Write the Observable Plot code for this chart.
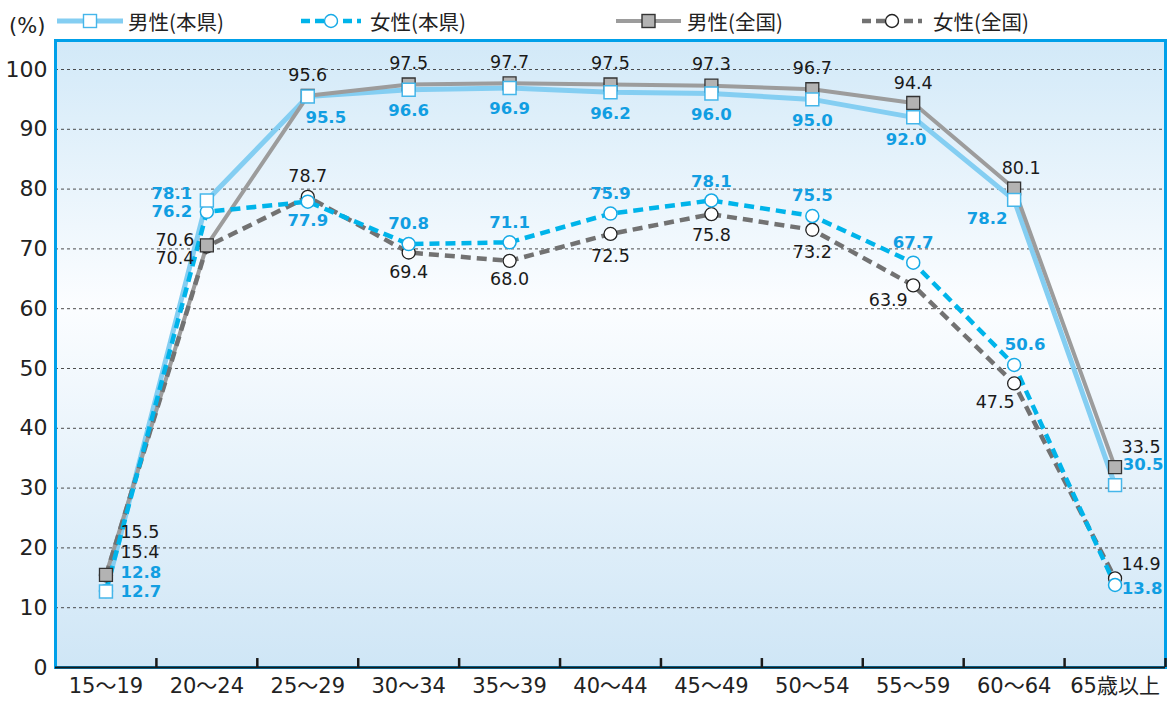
<!DOCTYPE html>
<html><head><meta charset="utf-8">
<script src="https://cdn.jsdelivr.net/npm/d3@7"></script>
<script src="https://cdn.jsdelivr.net/npm/@observablehq/plot@0.6"></script>
<style>
body{margin:0;background:#fff;font-family:"Noto Sans CJK JP",sans-serif;}
#wrap{position:relative;width:1171px;height:705px;overflow:hidden;}
#chart{position:absolute;left:0;top:0;}
.lg{position:absolute;top:0;height:42px;display:flex;align-items:center;font-size:20.5px;color:#222;white-space:nowrap;}
.lg svg{display:block;}
#unit{position:absolute;left:9px;top:14px;font-size:21px;color:#222;font-family:"DejaVu Sans",sans-serif;}
</style></head><body>
<div id="wrap"><div id="chart"></div><div id="legend"></div><div id="unit">(%)</div></div>
<script>
// ---- data ----
const ages = ["15～19","20～24","25～29","30～34","35～39","40～44","45～49","50～54","55～59","60～64","65歳以上"];
const malePref   = [12.7, 78.1, 95.5, 96.6, 96.9, 96.2, 96.0, 95.0, 92.0, 78.2, 30.5];
const femalePref = [12.8, 76.2, 77.9, 70.8, 71.1, 75.9, 78.1, 75.5, 67.7, 50.6, 13.8];
const maleNat    = [15.5, 70.6, 95.6, 97.5, 97.7, 97.5, 97.3, 96.7, 94.4, 80.1, 33.5];
const femaleNat  = [15.4, 70.4, 78.7, 69.4, 68.0, 72.5, 75.8, 73.2, 63.9, 47.5, 14.9];
const seriesNames = ["男性(本県)","女性(本県)","男性(全国)","女性(全国)"];
const yTicks = [0,10,20,30,40,50,60,70,80,90,100];

// ---- label placement (pixel nudges, layout only) ----
const offMalePref   = [[35,0],[-35,-7],[18,21],[0,21],[0,21],[0,21],[0,21],[0,21],[-7,22],[-27,19],[28,-20]];
const offFemalePref = [[35,-18],[-35,0],[0,19],[0,-20],[0,-20],[0,-20],[0,-19],[0,-20],[0,-20],[11,-20],[27,4]];
const offMaleNat    = [[34,-42],[-32,-5],[0,-20],[0,-21],[0,-21],[0,-21],[0,-21],[0,-21],[0,-20],[7,-20],[26,-20]];
const offFemaleNat  = [[34,-23],[-32,12],[0,-20],[0,20],[0,19],[0,22],[0,21],[0,23],[-25,15],[-19,19],[26,-14]];

const toRows = (vals) => vals.map((v,i)=>({age:ages[i], value:v, i}));
const rMP = toRows(malePref), rFP = toRows(femalePref), rMN = toRows(maleNat), rFN = toRows(femaleNat);

const W = 1171, H = 705, mL = 55, mR = 6, mT = 40, mB = 38;
const step = (W - mL - mR) / ages.length;

const cMaleLine = "#84cef2", cMaleMk = "#45b6ea";
const cFemLine = "#00b4ea", cFemMk = "#17aae6";
const cNatMale = "#9c9c9c", cNatFem = "#727272";
const cBlueTxt = "#119ee2";
const numFont = '"DejaVu Sans", "Noto Sans CJK JP", sans-serif';

function labels(rows, offs, color, weight){
  return rows.map((r,k)=>Plot.text([r], {x:"age", y:"value", text:d=>d.value.toFixed(1),
    dx:offs[k][0], dy:offs[k][1], fill:color, fontWeight:weight, fontSize: weight==="bold"?16.5:17.5,
    textAnchor:"middle", lineAnchor:"middle"}));
}

const chart = Plot.plot({
  width: W, height: H,
  marginLeft: mL, marginRight: mR, marginTop: mT, marginBottom: mB,
  style: {fontFamily: numFont, background: "transparent", color:"#222"},
  x: {type:"point", domain: ages, padding: 0.5, round: false, label: null},
  y: {domain: [0, 104.85], label: null},
  marks: [
    Plot.frame({fill: "url(#bgGrad)", stroke: "none"}),
    Plot.gridY(yTicks.slice(1), {stroke:"#3a3a3a", strokeOpacity:0.9, strokeWidth:1, strokeDasharray:"3,3"}),
    Plot.axisY(yTicks, {tickSize:0, tickPadding:8, fontSize:22, label:null, fill:"#222"}),
    Plot.axisX({tickSize:0, tickPadding:11, fontSize:21, label:null, fill:"#222"}),
    Plot.frame({stroke:"#00a0e9", strokeWidth:3}),
    Plot.ruleY([0], {stroke:"#1a1a1a", strokeWidth:2}),
    Plot.ruleX(ages, {x:d=>d, y1:0, y2:1.5, dx: step/2, stroke:"#1a1a1a", strokeWidth:2.5}),
    // lines
    Plot.line(rMP, {x:"age", y:"value", stroke:cMaleLine, strokeWidth:5}),
    Plot.line(rMN, {x:"age", y:"value", stroke:cNatMale, strokeWidth:4}),
    Plot.line(rFN, {x:"age", y:"value", stroke:cNatFem, strokeWidth:4.5, strokeDasharray:"10,6", strokeLinecap:"butt"}),
    Plot.line(rFP, {x:"age", y:"value", stroke:cFemLine, strokeWidth:4.5, strokeDasharray:"10,6", strokeLinecap:"butt"}),
    // markers
    Plot.dot(rFN, {x:"age", y:"value", r:6.5, fill:"#fff", stroke:"#222", strokeWidth:1.3}),
    Plot.dot(rFP, {x:"age", y:"value", r:6.5, fill:"#fff", stroke:cFemMk, strokeWidth:1.5}),
    Plot.dot(rMN, {x:"age", y:"value", symbol:"square", r:7.3, fill:"#b3b3b3", stroke:"#333", strokeWidth:1.3}),
    Plot.dot(rMP, {x:"age", y:"value", symbol:"square", r:7.3, fill:"#fff", stroke:cMaleMk, strokeWidth:1.5}),
    // labels
    ...labels(rMN, offMaleNat, "#1a1a1a", "normal"),
    ...labels(rFN, offFemaleNat, "#1a1a1a", "normal"),
    ...labels(rMP, offMalePref, cBlueTxt, "bold"),
    ...labels(rFP, offFemalePref, cBlueTxt, "bold")
  ]
});

const ns = "http://www.w3.org/2000/svg";
const defs = document.createElementNS(ns, "defs");
defs.innerHTML = '<linearGradient id="bgGrad" x1="0" y1="0" x2="0" y2="1">' +
  '<stop offset="0" stop-color="#d2e9f8"/><stop offset="0.42" stop-color="#fbfdff"/>' +
  '<stop offset="1" stop-color="#cfe6f6"/></linearGradient>';
chart.insertBefore(defs, chart.firstChild);
document.getElementById("chart").appendChild(chart);

// ---- legend ----
const legendSpec = [
  {name: seriesNames[0], left:57, textLeft:128, w:66, stroke:cMaleLine, sw:5, dash:null, sym:"square", fill:"#fff", mk:cMaleMk},
  {name: seriesNames[1], left:301, textLeft:370, w:60, stroke:cFemLine, sw:4.5, dash:"9,5", sym:"circle", fill:"#fff", mk:cFemMk},
  {name: seriesNames[2], left:616, textLeft:687, w:65, stroke:cNatMale, sw:4, dash:null, sym:"square", fill:"#b3b3b3", mk:"#333"},
  {name: seriesNames[3], left:862, textLeft:933, w:60, stroke:cNatFem, sw:4.5, dash:"9,5", sym:"circle", fill:"#fff", mk:"#222"}
];
const lg = document.getElementById("legend");
legendSpec.forEach(s=>{
  const sw = document.createElement("div");
  sw.className = "lg"; sw.style.left = s.left + "px";
  const cx = s.w/2;
  const mark = s.sym === "square"
    ? `<rect x="${cx-6.5}" y="${21-6.5}" width="13" height="13" fill="${s.fill}" stroke="${s.mk}" stroke-width="1.4"/>`
    : `<circle cx="${cx}" cy="21" r="6.5" fill="${s.fill}" stroke="${s.mk}" stroke-width="1.4"/>`;
  sw.innerHTML = `<svg width="${s.w}" height="42"><line x1="0" x2="${s.w}" y1="21" y2="21" stroke="${s.stroke}" stroke-width="${s.sw}" ${s.dash?`stroke-dasharray="${s.dash}"`:'stroke-linecap="round"'}/>${mark}</svg>`;
  lg.appendChild(sw);
  const t = document.createElement("div");
  t.className = "lg"; t.style.left = s.textLeft + "px"; t.textContent = s.name;
  lg.appendChild(t);
});
</script>
</body></html>
